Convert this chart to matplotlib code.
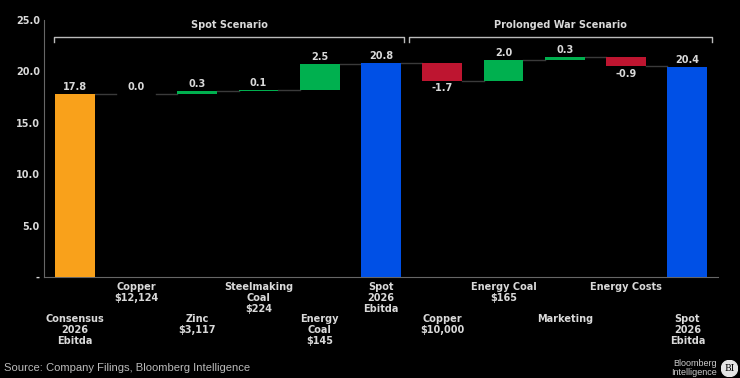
import numpy as np
import matplotlib.pyplot as plt
from matplotlib.patches import Circle

labels = ['Consensus\n2026\nEbitda', 'Copper\n$12,124', 'Zinc\n$3,117', 'Steelmaking\nCoal\n$224',
          'Energy\nCoal\n$145', 'Spot\n2026\nEbitda', 'Copper\n$10,000', 'Energy Coal\n$165',
          'Marketing', 'Energy Costs', 'Spot\n2026\nEbitda']
values = [17.8, 0.0, 0.3, 0.1, 2.5, 20.8, -1.7, 2.0, 0.3, -0.9, 20.4]
is_total = [True, False, False, False, False, True, False, False, False, False, True]
total_colors = ['#F9A11B', None, None, None, None, '#0050E6', None, None, None, None, '#0050E6']

GREEN = '#00B04F'
RED = '#BE1530'
FG = '#D9D9D9'
FS = 7

fig = plt.figure(figsize=(7.4, 3.78), dpi=100, facecolor='black')
ax = fig.add_axes([44 / 740, 1 - 277 / 378, 674 / 740, 257 / 378])
ax.set_facecolor('black')

x = np.arange(len(values))
w = 0.65
level = 0.0
tops = []
for i, v in enumerate(values):
    if is_total[i]:
        bottom, height, col = 0, v, total_colors[i]
        level = v
        end = v
    else:
        bottom, height = level, v
        col = GREEN if v >= 0 else RED
        level = level + v
        end = level
    if abs(height) < 0.05:
        col = '#0B5E2E'
        height = 0.04
    ax.bar(x[i], height, bottom=bottom, width=w, color=col, edgecolor='none', zorder=3)
    tops.append(end)
    top = max(bottom, bottom + height)
    low = min(bottom, bottom + height)
    if v < 0:
        ax.text(x[i], low - 0.25, f'{v:.1f}', ha='center', va='top', color=FG,
                fontsize=FS, fontweight='bold')
    else:
        ax.text(x[i], top + 0.2, f'{v:.1f}', ha='center', va='bottom', color=FG,
                fontsize=FS, fontweight='bold')

# connectors
for i in range(len(values) - 1):
    ax.plot([x[i] + w / 2, x[i + 1] - w / 2], [tops[i], tops[i]], color='#3A3A3A',
            lw=1.0, zorder=2)

ax.set_xlim(-0.5, len(values) - 0.5)
ax.set_ylim(0, 25)
ax.set_yticks([0, 5, 10, 15, 20, 25])
ax.set_yticklabels(['-', '5.0', '10.0', '15.0', '20.0', '25.0'])
ax.tick_params(axis='y', colors=FG, labelsize=FS, length=0, pad=3)
for t in ax.get_yticklabels():
    t.set_fontweight('bold')
ax.set_xticks([])
for s in ['top', 'right']:
    ax.spines[s].set_visible(False)
ax.spines['left'].set_color('#666666')
ax.spines['bottom'].set_color('#666666')

# category labels, staggered
for i, lab in enumerate(labels):
    ypix = 282 if i % 2 == 1 else 314
    fig.text(ax.transData.transform((x[i], 0))[0] / 740, 1 - ypix / 378, lab, ha='center',
             va='top', color=FG, fontsize=FS, fontweight='bold', linespacing=1.15)

# scenario brackets
def bracket(x0, x1, text):
    yb = 23.3
    ax.plot([x0, x0, x1, x1], [yb - 0.4, yb, yb, yb - 0.4], color='#BBBBBB', lw=1.0,
            clip_on=False)
    ax.text((x0 + x1) / 2, yb + 0.7, text, ha='center', va='bottom', color=FG,
            fontsize=FS, fontweight='bold')

bracket(-0.33, 5.37, 'Spot Scenario')
bracket(5.45, 10.4, 'Prolonged War Scenario')

fig.text(4 / 740, 1 - 368 / 378, 'Source: Company Filings, Bloomberg Intelligence',
         ha='left', va='center', color='#BBBBBB', fontsize=8.1, family='Liberation Sans')
fig.text(717 / 740, 1 - 368 / 378, 'Bloomberg\nIntelligence', ha='right', va='center',
         color='#CCCCCC', fontsize=6.5, linespacing=0.95, family='Liberation Sans')
logo = fig.add_axes([721 / 740, 1 - 377 / 378, 17 / 740, 17 / 378])
logo.set_aspect('equal')
logo.axis('off')
logo.add_patch(Circle((0.5, 0.5), 0.48, color='#E5E5E5'))
logo.text(0.5, 0.48, 'BI', ha='center', va='center', color='black', fontsize=6.5,
          family='DejaVu Serif')
logo.set_xlim(0, 1)
logo.set_ylim(0, 1)

fig.savefig('out.png', dpi=100, facecolor='black')
